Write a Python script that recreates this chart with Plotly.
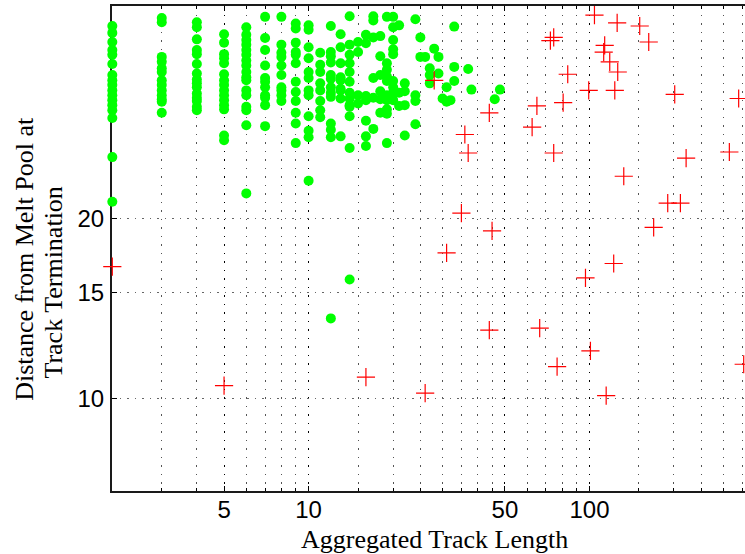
import plotly.graph_objects as go
import math

# ---- data ----
green_lengths = [2, 3, 4, 5, 6, 7, 8, 9, 10, 11, 12, 13, 14, 15, 16, 17, 18, 19, 20,
                 21, 22, 24, 25, 26, 27, 28, 29, 30, 31, 32, 33, 37, 38, 46, 48]
green_distances = [
    [41.9, 40.8, 39.4, 38.2, 37.5, 36.2, 34.7, 34.0, 33.4, 32.7, 32.1, 31.5, 30.9, 30.3, 29.4, 25.3, 21.3],
    [43.2, 42.5, 37.2, 36.5, 35.6, 35.1, 34.0, 33.4, 32.7, 32.1, 31.6, 31.3, 30.0],
    [42.5, 41.7, 39.8, 38.2, 37.6, 36.2, 34.9, 34.1, 33.6, 33.1, 32.3, 31.8, 31.4, 30.7, 30.3],
    [40.6, 39.3, 37.6, 37.0, 36.3, 34.8, 34.0, 33.4, 32.7, 32.1, 31.5, 30.9, 30.4, 27.5, 27.0],
    [41.7, 40.5, 39.7, 39.0, 38.2, 37.5, 36.7, 36.0, 35.1, 34.4, 34.0, 32.7, 32.1, 30.7, 30.3, 28.6, 22.0],
    [43.4, 40.0, 38.2, 36.0, 34.3, 33.8, 33.1, 32.1, 31.8, 30.9, 28.5],
    [43.4, 39.0, 37.8, 37.2, 36.0, 34.7, 33.1, 32.7, 32.1, 31.4],
    [42.3, 41.5, 39.3, 37.9, 37.5, 36.3, 33.8, 32.5, 31.4, 30.0, 28.8, 26.7],
    [42.0, 41.3, 38.6, 37.0, 35.1, 34.3, 32.7, 32.1, 29.6, 28.0, 27.3, 23.1],
    [37.8, 36.1, 35.1, 33.6, 32.7, 31.4, 30.3, 29.5],
    [41.9, 37.9, 37.3, 36.4, 34.7, 34.2, 33.1, 32.4, 31.9, 28.8, 28.1, 27.3, 13.6],
    [40.6, 38.6, 36.3, 34.4, 34.0, 32.9, 32.7, 31.7, 27.4],
    [43.5, 39.0, 37.5, 36.3, 35.1, 33.8, 32.4, 31.7, 30.9, 30.7, 29.6, 26.2, 15.8],
    [39.4, 37.9, 32.1, 31.1],
    [40.5, 39.2, 32.0, 31.5, 29.1, 27.4, 26.4],
    [43.5, 42.8, 40.1, 34.3, 31.8, 28.2],
    [40.3, 37.3, 34.7, 32.6, 31.6, 30.0],
    [43.4, 36.3, 35.4, 34.5, 33.9, 32.1, 31.5, 30.4, 29.9, 26.7],
    [43.4, 41.7, 39.7, 38.3, 37.6, 33.9, 33.1, 32.4, 31.5],
    [42.0, 32.4, 30.8],
    [33.6, 32.6, 30.9, 27.5],
    [43.0, 32.1, 31.4, 28.7],
    [40.1, 37.2],
    [37.2],
    [35.6, 34.7, 33.6],
    [38.4],
    [37.2, 34.9],
    [31.7],
    [33.1, 31.3],
    [31.5],
    [41.8, 35.8, 33.9],
    [35.5],
    [32.8],
    [31.6],
    [32.8],
]

red_lengths = [2, 5, 16, 26, 28, 31, 35, 36, 37, 44, 44, 45, 62.5, 65, 66.5, 72.6, 74.6, 74.6,
               76.7, 80.6, 83.7, 96.8, 99.4, 100.8, 104.2, 112.4, 113.3, 114.7, 118.1, 122,
               123.1, 125.5, 126.1, 132.5, 151, 162.6, 169.3, 190, 201.2, 210.8, 220.9,
               314.9, 339.9, 354.2]
red_distances = [16.6, 10.5, 10.85, 10.2, 34.0, 17.5, 20.4, 27.6, 25.7, 30.0, 13.0, 19.05,
                 28.4, 30.8, 13.1, 39.6, 40.1, 25.7, 11.3, 31.2, 34.8, 15.9, 32.7, 12.0,
                 43.7, 37.9, 38.9, 10.1, 36.5, 16.8, 32.7, 42.4, 35.1, 23.5, 41.9, 39.4,
                 19.3, 21.2, 32.2, 21.2, 25.2, 25.8, 31.7, 11.4]

x_major_ticks = [5, 10, 50, 100]
x_minor_grid = [3, 4, 6, 7, 8, 9, 15, 20, 25, 30, 35, 40, 45, 60, 70, 80, 90,
                150, 200, 250, 300, 350]
y_ticks = [10, 15, 20]
x_limits = [1.995, 358]
y_limits = [7.0, 45.25]

x_title = "Aggregated Track Length"
y_title_1 = "Distance from Melt Pool at"
y_title_2 = "Track Termination"

# ---- build ----
gx, gy = [], []
for L, ds in zip(green_lengths, green_distances):
    for d in ds:
        gx.append(L)
        gy.append(d)

fig = go.Figure()
fig.add_trace(go.Scatter(
    x=gx, y=gy, mode="markers", cliponaxis=False, showlegend=False,
    marker=dict(symbol="circle", size=10, color="#00ff00", line=dict(width=0)),
))
fig.add_trace(go.Scatter(
    x=red_lengths, y=red_distances, mode="markers", cliponaxis=False, showlegend=False,
    marker=dict(symbol="cross-thin", size=13, color="#ff0000",
                line=dict(width=1.2, color="#ff0000")),
))

tick_font = dict(family="Liberation Sans, Arial, sans-serif", size=24, color="black")
title_font = dict(family="Liberation Serif, Times New Roman, serif", size=26, color="black")

fig.update_xaxes(
    type="log",
    range=[math.log10(x_limits[0]), math.log10(x_limits[1])],
    tickmode="array", tickvals=x_major_ticks, ticktext=[str(v) for v in x_major_ticks],
    tickfont=tick_font,
    ticks="inside", ticklen=5, tickwidth=1, tickcolor="black",
    ticklabelstandoff=-4,
    showline=True, linecolor="#1a1a1a", linewidth=2, mirror="ticks",
    showgrid=True, gridcolor="#000000", gridwidth=1, griddash="1.5px,7px",
    minor=dict(tickmode="array", tickvals=x_minor_grid, ticks="inside", ticklen=3,
               tickcolor="black", showgrid=True, gridcolor="#555555", gridwidth=1,
               griddash="1.5px,7px"),
    zeroline=False, layer="below traces",
)
fig.update_yaxes(
    type="log",
    range=[math.log10(y_limits[0]), math.log10(y_limits[1])],
    tickmode="array", tickvals=y_ticks, ticktext=[str(v) for v in y_ticks],
    tickfont=tick_font,
    ticks="inside", ticklen=5, tickwidth=1, tickcolor="black",
    ticklabelstandoff=1,
    showline=True, linecolor="#1a1a1a", linewidth=2, mirror=False,
    showgrid=True, gridcolor="#666666", gridwidth=1, griddash="1.5px,6px",
    zeroline=False, layer="below traces",
)

fig.update_layout(
    width=745, height=554, autosize=False,
    margin=dict(l=112, r=0, t=6, b=63, pad=0),
    paper_bgcolor="white", plot_bgcolor="white",
    annotations=[
        dict(text=x_title, xref="paper", yref="paper", x=0.51, y=-0.1,
             xanchor="center", yanchor="middle", showarrow=False, font=title_font),
        dict(text=y_title_1, xref="paper", yref="paper", x=-0.138, y=0.478,
             xanchor="center", yanchor="middle", textangle=-90, showarrow=False,
             font=title_font),
        dict(text=y_title_2, xref="paper", yref="paper", x=-0.093, y=0.43,
             xanchor="center", yanchor="middle", textangle=-90, showarrow=False,
             font=title_font),
    ],
)

fig.write_html("out.html", config={"displayModeBar": False})
